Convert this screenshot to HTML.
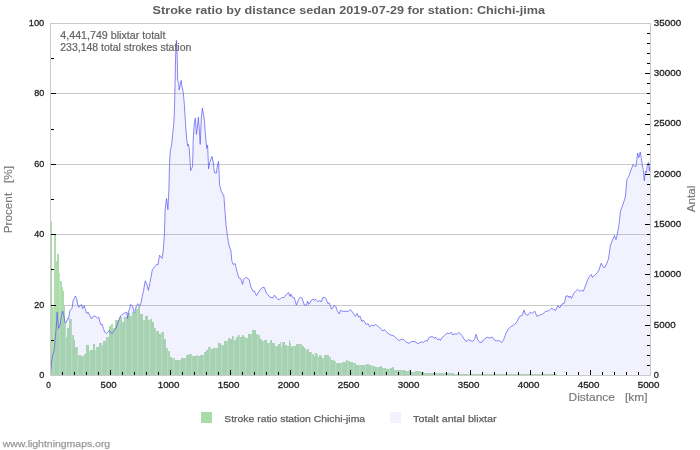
<!DOCTYPE html>
<html><head><meta charset="utf-8"><title>Stroke ratio by distance</title>
<style>
html,body{margin:0;padding:0;background:#fff;}
body{width:700px;height:450px;overflow:hidden;position:relative;font-family:"Liberation Sans",sans-serif;}
</style></head><body>
<svg width="700" height="450" viewBox="0 0 700 450" style="position:absolute;left:0;top:0;will-change:transform"><rect width="700" height="450" fill="#fff"/><g stroke="#c9c9c9" stroke-width="1" shape-rendering="crispEdges"><line x1="51" x2="650" y1="305.5" y2="305.5"/><line x1="51" x2="650" y1="234.5" y2="234.5"/><line x1="51" x2="650" y1="164.5" y2="164.5"/><line x1="51" x2="650" y1="93.5" y2="93.5"/></g><g shape-rendering="crispEdges"><path fill="#acdcaa" d="M51,221h1V375h-1zM52,307h1V375h-1zM55,235h1V375h-1zM56,261h1V375h-1zM57,254h2V375h-2zM61,281h1V375h-1zM62,287h1V375h-1zM63,291h1V375h-1zM64,306h1V375h-1zM67,328h2V375h-2zM69,319h2V375h-2zM73,335h1V375h-1zM74,340h1V375h-1zM75,347h2V375h-2zM79,355h2V375h-2zM81,356h2V375h-2zM85,354h1V375h-1zM86,345h3V375h-3zM91,349.6h2V375h-2zM93,344h2V375h-2zM97,347h2V375h-2zM99,343h2V375h-2zM103,341h3V375h-3zM106,337h1V375h-1zM109,325.5h2V375h-2zM111,324h2V375h-2zM115,319.6h4V375h-4zM121,316.5h1V375h-1zM122,322h2V375h-2zM124,317h1V375h-1zM127,317h1V375h-1zM128,313h2V375h-2zM130,316h1V375h-1zM133,312h3V375h-3zM136,308.5h1V375h-1zM139,306h1V375h-1zM140,314h3V375h-3zM145,316h3V375h-3zM148,320.4h1V375h-1zM151,319h1V375h-1zM152,322h2V375h-2zM154,327.6h1V375h-1zM157,330.8h2V375h-2zM159,334h2V375h-2zM163,332.4h1V375h-1zM164,338.8h2V375h-2zM166,348.4h1V375h-1zM169,350.8h1V375h-1zM170,357h2V375h-2zM172,358.4h1V375h-1zM175,360.4h3V375h-3zM178,360h1V375h-1zM181,358.4h4V375h-4zM187,354.8h2V375h-2zM189,353.6h2V375h-2zM193,355.6h1V375h-1zM194,356.4h2V375h-2zM196,355h1V375h-1zM199,356.4h1V375h-1zM200,354.8h3V375h-3zM205,352h1V375h-1zM206,349.6h2V375h-2zM208,347h1V375h-1zM211,349h2V375h-2zM213,348h2V375h-2zM217,348h1V375h-1zM218,343.2h3V375h-3zM223,345h1V375h-1zM224,340.5h3V375h-3zM229,338h1V375h-1zM230,339h2V375h-2zM232,336.2h1V375h-1zM235,340.2h1V375h-1zM236,337h2V375h-2zM238,335.2h1V375h-1zM241,337.4h1V375h-1zM242,335.2h2V375h-2zM244,337h1V375h-1zM247,337.6h1V375h-1zM248,334.2h3V375h-3zM253,330.2h3V375h-3zM256,334h1V375h-1zM259,335.4h1V375h-1zM260,338.8h2V375h-2zM262,341.2h1V375h-1zM265,340h2V375h-2zM267,342.8h2V375h-2zM271,340h1V375h-1zM272,343.1h3V375h-3zM277,345.5h1V375h-1zM278,343.9h2V375h-2zM280,342h1V375h-1zM283,342h2V375h-2zM285,344.9h2V375h-2zM289,340h1V375h-1zM290,343h1V375h-1zM291,347h1V375h-1zM292,346h1V375h-1zM295,346h1V375h-1zM296,344h3V375h-3zM301,344h1V375h-1zM302,346h2V375h-2zM304,348h1V375h-1zM307,349h2V375h-2zM309,352h2V375h-2zM313,354h1V375h-1zM314,356h1V375h-1zM315,353h2V375h-2zM319,355h2V375h-2zM321,356h1V375h-1zM322,358h1V375h-1zM325,355h1V375h-1zM326,354.5h3V375h-3zM331,360h3V375h-3zM334,361.2h1V375h-1zM337,363.3h4V375h-4zM343,362h3V375h-3zM346,360.4h1V375h-1zM349,361.2h1V375h-1zM350,362h3V375h-3zM355,363.3h1V375h-1zM356,364.5h3V375h-3zM361,365.3h4V375h-4zM367,364h2V375h-2zM369,365.3h2V375h-2zM373,366h2V375h-2zM375,366.9h2V375h-2zM379,366.9h1V375h-1zM380,366.4h2V375h-2zM382,368h1V375h-1zM385,368h1V375h-1zM386,368.8h3V375h-3zM391,368h1V375h-1zM392,366.9h2V375h-2zM394,370.4h1V375h-1zM397,370h4V375h-4zM403,370h2V375h-2zM405,370.9h2V375h-2zM409,369.6h1V375h-1zM410,371.5h3V375h-3zM415,371.2h4V375h-4zM421,372h3V375h-3zM424,372.8h1V375h-1zM427,372.8h4V375h-4zM433,372.5h4V375h-4zM439,372.8h4V375h-4zM445,373.3h4V375h-4zM451,373.3h3V375h-3zM454,374h1V375h-1zM457,374h4V375h-4zM463,374h1V375h-1zM464,374.3h3V375h-3zM469,374.3h4V375h-4zM475,374.3h4V375h-4zM481,374.3h4V375h-4zM487,374.3h4V375h-4zM493,374.3h4V375h-4zM499,374.3h4V375h-4zM505,374.3h4V375h-4zM511,374.3h4V375h-4zM517,374.3h4V375h-4zM523,374.3h4V375h-4zM529,374.3h4V375h-4zM535,374.3h4V375h-4zM541,374.3h4V375h-4zM547,374.3h4V375h-4zM553,374.3h4V375h-4z"/><path fill="#bbe3bb" d="M53,307h1V375h-1zM59,273h1V375h-1zM65,322h1V375h-1zM71,319h1V375h-1zM77,347h1V375h-1zM83,356h1V375h-1zM89,351h1V375h-1zM95,350h1V375h-1zM101,343h1V375h-1zM107,337h1V375h-1zM113,327.6h1V375h-1zM119,316.5h1V375h-1zM125,317h1V375h-1zM131,316h1V375h-1zM137,308.5h1V375h-1zM143,319.6h1V375h-1zM149,320.4h1V375h-1zM155,327.6h1V375h-1zM161,332.4h1V375h-1zM167,348.4h1V375h-1zM173,358.4h1V375h-1zM179,360h1V375h-1zM185,358.4h1V375h-1zM191,353.6h1V375h-1zM197,355h1V375h-1zM203,354.8h1V375h-1zM209,347h1V375h-1zM215,348h1V375h-1zM221,345h1V375h-1zM227,340.5h1V375h-1zM233,336.2h1V375h-1zM239,335.2h1V375h-1zM245,337h1V375h-1zM251,334.2h1V375h-1zM257,334h1V375h-1zM263,341.2h1V375h-1zM269,342.8h1V375h-1zM275,345.5h1V375h-1zM281,346.8h1V375h-1zM287,346h1V375h-1zM293,346h1V375h-1zM299,344h1V375h-1zM305,348h1V375h-1zM311,352h1V375h-1zM317,354h1V375h-1zM323,358h1V375h-1zM329,357.2h1V375h-1zM335,361.2h1V375h-1zM341,363.3h1V375h-1zM347,360.4h1V375h-1zM353,363.3h1V375h-1zM359,365.3h1V375h-1zM365,365.3h1V375h-1zM371,365.3h1V375h-1zM377,366.9h1V375h-1zM383,368h1V375h-1zM389,368.8h1V375h-1zM395,370.4h1V375h-1zM401,370h1V375h-1zM407,370.9h1V375h-1zM413,371.5h1V375h-1zM419,371.2h1V375h-1zM425,372.8h1V375h-1zM431,372.8h1V375h-1zM437,372.5h1V375h-1zM443,372.8h1V375h-1zM449,373.3h1V375h-1zM455,374h1V375h-1zM461,374h1V375h-1zM467,374.3h1V375h-1zM473,374.3h1V375h-1zM479,374.3h1V375h-1zM485,374.3h1V375h-1zM491,374.3h1V375h-1zM497,374.3h1V375h-1zM503,374.3h1V375h-1zM509,374.3h1V375h-1zM515,374.3h1V375h-1zM521,374.3h1V375h-1zM527,374.3h1V375h-1zM533,374.3h1V375h-1zM539,374.3h1V375h-1zM545,374.3h1V375h-1zM551,374.3h1V375h-1z"/><path fill="#b2dfb1" d="M54,235h1V375h-1zM60,281h1V375h-1zM66,337h1V375h-1zM72,335h1V375h-1zM78,355h1V375h-1zM84,354h1V375h-1zM90,349.6h1V375h-1zM96,347h1V375h-1zM102,345h1V375h-1zM108,337h1V375h-1zM114,327.6h1V375h-1zM120,316.5h1V375h-1zM126,317h1V375h-1zM132,312h1V375h-1zM138,306h1V375h-1zM144,319.6h1V375h-1zM150,319h1V375h-1zM156,330.8h1V375h-1zM162,332.4h1V375h-1zM168,350.8h1V375h-1zM174,358.4h1V375h-1zM180,360h1V375h-1zM186,354.8h1V375h-1zM192,355.6h1V375h-1zM198,356.4h1V375h-1zM204,352h1V375h-1zM210,347h1V375h-1zM216,348h1V375h-1zM222,345h1V375h-1zM228,338h1V375h-1zM234,340.2h1V375h-1zM240,337.4h1V375h-1zM246,337.6h1V375h-1zM252,330.2h1V375h-1zM258,335.4h1V375h-1zM264,340h1V375h-1zM270,340h1V375h-1zM276,345.5h1V375h-1zM282,342h1V375h-1zM288,346h1V375h-1zM294,346h1V375h-1zM300,344h1V375h-1zM306,350h1V375h-1zM312,354h1V375h-1zM318,357h1V375h-1zM324,355h1V375h-1zM330,357.2h1V375h-1zM336,363.3h1V375h-1zM342,362h1V375h-1zM348,361.2h1V375h-1zM354,363.3h1V375h-1zM360,365.3h1V375h-1zM366,364h1V375h-1zM372,366h1V375h-1zM378,366.9h1V375h-1zM384,368h1V375h-1zM390,368h1V375h-1zM396,370.4h1V375h-1zM402,370h1V375h-1zM408,370.9h1V375h-1zM414,371.5h1V375h-1zM420,371.2h1V375h-1zM426,372.8h1V375h-1zM432,372.5h1V375h-1zM438,372.8h1V375h-1zM444,372.8h1V375h-1zM450,373.3h1V375h-1zM456,374h1V375h-1zM462,374h1V375h-1zM468,374.3h1V375h-1zM474,374.3h1V375h-1zM480,374.3h1V375h-1zM486,374.3h1V375h-1zM492,374.3h1V375h-1zM498,374.3h1V375h-1zM504,374.3h1V375h-1zM510,374.3h1V375h-1zM516,374.3h1V375h-1zM522,374.3h1V375h-1zM528,374.3h1V375h-1zM534,374.3h1V375h-1zM540,374.3h1V375h-1zM546,374.3h1V375h-1zM552,374.3h1V375h-1z"/></g><path d="M50.5,375 L50.6,371 L51,368 L52,359 L53,354 L54.2,350 L55.4,335.6 L56.2,328.4 L57.2,312.2 L57.8,320 L58.6,328.4 L60.2,324.2 L61.4,315.8 L62.6,311 L63.8,315.2 L65,322.4 L66.2,322.4 L67.8,318.2 L68.6,318.8 L69.8,311 L71,309.2 L72.2,308 L73,300.8 L74,299 L75.4,296 L76.6,298.4 L77.8,305 L78.8,307.4 L80.6,305 L81.4,304.4 L82.6,308.6 L84.2,305.6 L85.4,309.8 L86.6,313.4 L88.2,312.2 L89.6,315.2 L91.4,318.8 L93.2,316.4 L95.6,316.2 L97.4,318.2 L98.6,317 L99.8,321.2 L101,324.8 L102.2,324.2 L103.4,328.4 L104.6,332 L106.4,333.4 L108.2,332 L109.4,330.2 L111.2,333.4 L112.4,333.2 L114.2,330.2 L116,327.8 L117.8,323 L119.6,318.2 L120.8,315.8 L122,314.6 L123.8,313.4 L125.6,312.6 L126.8,312.2 L127.6,318.4 L128.5,311.2 L129.6,309.2 L130.4,304.4 L131.6,305 L132.8,306.8 L133.8,311.4 L134.8,312.4 L136.4,306 L138,303.6 L139.9,306 L141.2,302 L142,297.6 L143.6,290.4 L145.2,280.8 L146.8,284 L148.4,290.4 L150,282.4 L152.4,269.6 L154.8,266.4 L157.2,264 L158,264.8 L159.6,255.2 L162,258.4 L163.1,252 L164.4,235 L165.2,208.8 L166.5,198.4 L167.9,209.6 L168.9,189.6 L169.5,164.4 L170.3,150.8 L171.6,145.2 L173.7,124.4 L174.3,114.8 L174.8,96 L175.6,56.4 L176.4,40.4 L177.2,56.4 L177.7,80.4 L178.8,83.6 L179.1,90 L181.2,80.4 L182,86.8 L183.1,91.6 L183.6,96.4 L184.4,105.2 L185.5,123.6 L186.5,137.2 L187.6,146 L188.4,144.4 L189.2,148.4 L190.3,164.4 L190.6,170.6 L191.6,168.5 L192.5,166.5 L192.9,154.8 L193.2,140 L194.3,123 L195.4,118.2 L196.4,134.4 L197.4,127 L198.4,117.2 L199.3,130 L200.2,144.4 L201.3,118 L202.4,108 L203.6,115 L204.4,120.4 L205.7,138.8 L206.8,148.4 L207.6,145.2 L208.6,168.8 L209.4,164 L210.3,161 L212,156.4 L213.4,163 L214,170 L214.8,173 L216.4,173 L217.3,166 L218.5,161.3 L219.2,175 L219.6,184.8 L221.2,191.2 L223.9,196 L224.9,210.4 L226,224.8 L227.3,235 L228.4,242.4 L230,248.8 L230.8,250 L231.9,261.2 L233.2,264.4 L235.1,263.6 L237.2,272.4 L238.8,278 L240.9,278.8 L242.5,284.4 L243.6,279.6 L246,277.2 L249.2,279.6 L250.8,286.8 L253.2,291.6 L254.3,290.8 L256.4,295.6 L258.8,291.6 L262,287.6 L264.4,287.6 L266.5,293.2 L270,297.2 L273.2,297.7 L274.5,295.1 L278,299.6 L280.4,298.8 L282,297.2 L283.6,298 L286,294.8 L288.4,292.4 L290,296.4 L290.8,294 L292.4,297.2 L294.3,297.7 L296.4,305.2 L298.5,299.6 L300.4,297.2 L302,298 L304.4,305.2 L306.5,305.2 L307.6,301.2 L308.7,304.4 L312.2,299.4 L313.8,299.4 L314.6,300.6 L315.6,299.3 L316.6,300.4 L318.1,301.6 L319.8,300.5 L320.4,300.9 L321.2,302 L322.8,297.7 L324.7,297.2 L326,298.8 L327.9,303.6 L329.2,302.8 L331.6,309.2 L334.3,305.2 L335.9,306.8 L337.5,311.6 L339.3,314 L340.4,310.3 L342.8,311.3 L346,311.3 L348.4,311.3 L350.5,309.5 L353.2,313.2 L355.3,316.4 L357.2,313.5 L358.5,317.2 L360,316 L361.7,321.2 L363.6,320.4 L366,324.4 L368.1,323.6 L369.7,326.8 L371.6,325.2 L374,325.7 L375.6,324.4 L378,326.3 L380.4,328.4 L382.8,331.1 L384.4,329.5 L386.8,332.4 L390,334.8 L393.2,335.6 L396.4,338 L398.8,340.7 L401.2,339.3 L403.6,339.6 L406,342 L409.2,343.3 L411.6,341.5 L414.8,341.5 L418,343.6 L421.2,342 L423.6,342.3 L426,340.4 L427.3,341.2 L429.2,337.5 L432.1,336.4 L434,338 L435.9,337.5 L437.5,339.6 L439.1,338.8 L440.4,340.4 L442,337.5 L444.4,335.6 L446.8,333.2 L449.2,333.5 L451.6,332.4 L452.7,334.8 L454.8,334 L457.2,334 L459.1,332.4 L462,335.6 L463.9,338.8 L466,341.5 L468.4,339.6 L470,340.4 L472.4,341.2 L474.5,339.6 L476.1,334.3 L477.7,339.6 L479.6,342.3 L482,342.3 L483.6,339.6 L486,338 L487.3,337.2 L489.2,338 L492.4,337.2 L494.8,340.4 L497.2,340.9 L498.8,340.4 L501.7,342.5 L503.6,339.6 L506,333.2 L508.4,328.9 L510.8,326.8 L514.8,324.4 L517.2,321.2 L519.6,316.4 L522,315.6 L524.1,310 L525.2,314 L527.6,315.3 L530,312.4 L532.4,313.2 L534.8,311.1 L536.9,316.4 L540.4,314.8 L542.8,314 L545.2,311.6 L549.2,310.5 L551.3,308.4 L553.2,309.2 L555.6,310.5 L558,305.6 L559.6,308 L562,304 L564.4,303.2 L566,296 L568.1,296 L569.2,297.6 L570,296 L571.6,298.4 L573.5,293.6 L575.6,291.2 L577.7,289.3 L579.6,291.2 L581.5,290.4 L583.3,291.2 L585.2,286.4 L587.3,280.8 L589.2,276.8 L591.3,274.4 L592.4,277.3 L594.8,275.2 L597.2,272.8 L598.8,270.4 L600.1,266.4 L601.2,263.2 L602.8,266.4 L604.4,268 L606.5,264 L608.4,259.2 L609.5,252 L610.4,245.2 L614.4,235.6 L616,239.6 L617.3,234 L618.7,226.8 L619.7,218.8 L620.5,210.8 L622.4,206 L625.1,198 L626,191 L626.7,180.8 L627.3,178.5 L628.8,176.3 L630.6,171.2 L633.1,164.5 L634.7,166.4 L636,166.4 L636.8,160 L637.6,153 L638.9,157.6 L640.2,152 L641.3,157.6 L642.1,164 L643.2,169.6 L644.3,180.8 L645.3,171.2 L646.4,172.8 L647.2,165.6 L648.5,162.4 L649.3,171.2 L650,166.4 L650,375 Z" fill="rgba(120,120,255,0.095)"/><polyline points="50.6,371 51,368 52,359 53,354 54.2,350 55.4,335.6 56.2,328.4 57.2,312.2 57.8,320 58.6,328.4 60.2,324.2 61.4,315.8 62.6,311 63.8,315.2 65,322.4 66.2,322.4 67.8,318.2 68.6,318.8 69.8,311 71,309.2 72.2,308 73,300.8 74,299 75.4,296 76.6,298.4 77.8,305 78.8,307.4 80.6,305 81.4,304.4 82.6,308.6 84.2,305.6 85.4,309.8 86.6,313.4 88.2,312.2 89.6,315.2 91.4,318.8 93.2,316.4 95.6,316.2 97.4,318.2 98.6,317 99.8,321.2 101,324.8 102.2,324.2 103.4,328.4 104.6,332 106.4,333.4 108.2,332 109.4,330.2 111.2,333.4 112.4,333.2 114.2,330.2 116,327.8 117.8,323 119.6,318.2 120.8,315.8 122,314.6 123.8,313.4 125.6,312.6 126.8,312.2 127.6,318.4 128.5,311.2 129.6,309.2 130.4,304.4 131.6,305 132.8,306.8 133.8,311.4 134.8,312.4 136.4,306 138,303.6 139.9,306 141.2,302 142,297.6 143.6,290.4 145.2,280.8 146.8,284 148.4,290.4 150,282.4 152.4,269.6 154.8,266.4 157.2,264 158,264.8 159.6,255.2 162,258.4 163.1,252 164.4,235 165.2,208.8 166.5,198.4 167.9,209.6 168.9,189.6 169.5,164.4 170.3,150.8 171.6,145.2 173.7,124.4 174.3,114.8 174.8,96 175.6,56.4 176.4,40.4 177.2,56.4 177.7,80.4 178.8,83.6 179.1,90 181.2,80.4 182,86.8 183.1,91.6 183.6,96.4 184.4,105.2 185.5,123.6 186.5,137.2 187.6,146 188.4,144.4 189.2,148.4 190.3,164.4 190.6,170.6 191.6,168.5 192.5,166.5 192.9,154.8 193.2,140 194.3,123 195.4,118.2 196.4,134.4 197.4,127 198.4,117.2 199.3,130 200.2,144.4 201.3,118 202.4,108 203.6,115 204.4,120.4 205.7,138.8 206.8,148.4 207.6,145.2 208.6,168.8 209.4,164 210.3,161 212,156.4 213.4,163 214,170 214.8,173 216.4,173 217.3,166 218.5,161.3 219.2,175 219.6,184.8 221.2,191.2 223.9,196 224.9,210.4 226,224.8 227.3,235 228.4,242.4 230,248.8 230.8,250 231.9,261.2 233.2,264.4 235.1,263.6 237.2,272.4 238.8,278 240.9,278.8 242.5,284.4 243.6,279.6 246,277.2 249.2,279.6 250.8,286.8 253.2,291.6 254.3,290.8 256.4,295.6 258.8,291.6 262,287.6 264.4,287.6 266.5,293.2 270,297.2 273.2,297.7 274.5,295.1 278,299.6 280.4,298.8 282,297.2 283.6,298 286,294.8 288.4,292.4 290,296.4 290.8,294 292.4,297.2 294.3,297.7 296.4,305.2 298.5,299.6 300.4,297.2 302,298 304.4,305.2 306.5,305.2 307.6,301.2 308.7,304.4 312.2,299.4 313.8,299.4 314.6,300.6 315.6,299.3 316.6,300.4 318.1,301.6 319.8,300.5 320.4,300.9 321.2,302 322.8,297.7 324.7,297.2 326,298.8 327.9,303.6 329.2,302.8 331.6,309.2 334.3,305.2 335.9,306.8 337.5,311.6 339.3,314 340.4,310.3 342.8,311.3 346,311.3 348.4,311.3 350.5,309.5 353.2,313.2 355.3,316.4 357.2,313.5 358.5,317.2 360,316 361.7,321.2 363.6,320.4 366,324.4 368.1,323.6 369.7,326.8 371.6,325.2 374,325.7 375.6,324.4 378,326.3 380.4,328.4 382.8,331.1 384.4,329.5 386.8,332.4 390,334.8 393.2,335.6 396.4,338 398.8,340.7 401.2,339.3 403.6,339.6 406,342 409.2,343.3 411.6,341.5 414.8,341.5 418,343.6 421.2,342 423.6,342.3 426,340.4 427.3,341.2 429.2,337.5 432.1,336.4 434,338 435.9,337.5 437.5,339.6 439.1,338.8 440.4,340.4 442,337.5 444.4,335.6 446.8,333.2 449.2,333.5 451.6,332.4 452.7,334.8 454.8,334 457.2,334 459.1,332.4 462,335.6 463.9,338.8 466,341.5 468.4,339.6 470,340.4 472.4,341.2 474.5,339.6 476.1,334.3 477.7,339.6 479.6,342.3 482,342.3 483.6,339.6 486,338 487.3,337.2 489.2,338 492.4,337.2 494.8,340.4 497.2,340.9 498.8,340.4 501.7,342.5 503.6,339.6 506,333.2 508.4,328.9 510.8,326.8 514.8,324.4 517.2,321.2 519.6,316.4 522,315.6 524.1,310 525.2,314 527.6,315.3 530,312.4 532.4,313.2 534.8,311.1 536.9,316.4 540.4,314.8 542.8,314 545.2,311.6 549.2,310.5 551.3,308.4 553.2,309.2 555.6,310.5 558,305.6 559.6,308 562,304 564.4,303.2 566,296 568.1,296 569.2,297.6 570,296 571.6,298.4 573.5,293.6 575.6,291.2 577.7,289.3 579.6,291.2 581.5,290.4 583.3,291.2 585.2,286.4 587.3,280.8 589.2,276.8 591.3,274.4 592.4,277.3 594.8,275.2 597.2,272.8 598.8,270.4 600.1,266.4 601.2,263.2 602.8,266.4 604.4,268 606.5,264 608.4,259.2 609.5,252 610.4,245.2 614.4,235.6 616,239.6 617.3,234 618.7,226.8 619.7,218.8 620.5,210.8 622.4,206 625.1,198 626,191 626.7,180.8 627.3,178.5 628.8,176.3 630.6,171.2 633.1,164.5 634.7,166.4 636,166.4 636.8,160 637.6,153 638.9,157.6 640.2,152 641.3,157.6 642.1,164 643.2,169.6 644.3,180.8 645.3,171.2 646.4,172.8 647.2,165.6 648.5,162.4 649.3,171.2 650,166.4" fill="none" stroke="#5555f2" stroke-width="0.7" stroke-linejoin="round"/><g stroke="#cbcbcb" stroke-width="1" shape-rendering="crispEdges" fill="none"><line x1="50.5" x2="50.5" y1="23" y2="376"/><line x1="650.5" x2="650.5" y1="23" y2="376"/><line x1="50" x2="651" y1="23.5" y2="23.5"/><line x1="50" x2="651" y1="375.5" y2="375.5"/></g><g stroke="#000" stroke-width="1" shape-rendering="crispEdges"><line x1="51" x2="54" y1="340.5" y2="340.5"/><line x1="51" x2="56" y1="305.5" y2="305.5"/><line x1="51" x2="54" y1="269.5" y2="269.5"/><line x1="51" x2="56" y1="234.5" y2="234.5"/><line x1="51" x2="54" y1="199.5" y2="199.5"/><line x1="51" x2="56" y1="164.5" y2="164.5"/><line x1="51" x2="54" y1="129.5" y2="129.5"/><line x1="51" x2="56" y1="93.5" y2="93.5"/><line x1="51" x2="54" y1="58.5" y2="58.5"/><line x1="647" x2="650" y1="365.5" y2="365.5"/><line x1="647" x2="650" y1="355.5" y2="355.5"/><line x1="647" x2="650" y1="345.5" y2="345.5"/><line x1="647" x2="650" y1="335.5" y2="335.5"/><line x1="645" x2="650" y1="325.5" y2="325.5"/><line x1="647" x2="650" y1="315.5" y2="315.5"/><line x1="647" x2="650" y1="305.5" y2="305.5"/><line x1="647" x2="650" y1="295.5" y2="295.5"/><line x1="647" x2="650" y1="284.5" y2="284.5"/><line x1="645" x2="650" y1="274.5" y2="274.5"/><line x1="647" x2="650" y1="264.5" y2="264.5"/><line x1="647" x2="650" y1="254.5" y2="254.5"/><line x1="647" x2="650" y1="244.5" y2="244.5"/><line x1="647" x2="650" y1="234.5" y2="234.5"/><line x1="645" x2="650" y1="224.5" y2="224.5"/><line x1="647" x2="650" y1="214.5" y2="214.5"/><line x1="647" x2="650" y1="204.5" y2="204.5"/><line x1="647" x2="650" y1="194.5" y2="194.5"/><line x1="647" x2="650" y1="184.5" y2="184.5"/><line x1="645" x2="650" y1="174.5" y2="174.5"/><line x1="647" x2="650" y1="164.5" y2="164.5"/><line x1="647" x2="650" y1="154.5" y2="154.5"/><line x1="647" x2="650" y1="144.5" y2="144.5"/><line x1="647" x2="650" y1="134.5" y2="134.5"/><line x1="645" x2="650" y1="124.5" y2="124.5"/><line x1="647" x2="650" y1="114.5" y2="114.5"/><line x1="647" x2="650" y1="103.5" y2="103.5"/><line x1="647" x2="650" y1="93.5" y2="93.5"/><line x1="647" x2="650" y1="83.5" y2="83.5"/><line x1="645" x2="650" y1="73.5" y2="73.5"/><line x1="647" x2="650" y1="63.5" y2="63.5"/><line x1="647" x2="650" y1="53.5" y2="53.5"/><line x1="647" x2="650" y1="43.5" y2="43.5"/><line x1="647" x2="650" y1="33.5" y2="33.5"/><line x1="62.5" x2="62.5" y1="372" y2="375"/><line x1="74.5" x2="74.5" y1="372" y2="375"/><line x1="86.5" x2="86.5" y1="372" y2="375"/><line x1="98.5" x2="98.5" y1="372" y2="375"/><line x1="110.5" x2="110.5" y1="370" y2="375"/><line x1="122.5" x2="122.5" y1="372" y2="375"/><line x1="134.5" x2="134.5" y1="372" y2="375"/><line x1="146.5" x2="146.5" y1="372" y2="375"/><line x1="158.5" x2="158.5" y1="372" y2="375"/><line x1="170.5" x2="170.5" y1="370" y2="375"/><line x1="182.5" x2="182.5" y1="372" y2="375"/><line x1="194.5" x2="194.5" y1="372" y2="375"/><line x1="206.5" x2="206.5" y1="372" y2="375"/><line x1="218.5" x2="218.5" y1="372" y2="375"/><line x1="230.5" x2="230.5" y1="370" y2="375"/><line x1="242.5" x2="242.5" y1="372" y2="375"/><line x1="254.5" x2="254.5" y1="372" y2="375"/><line x1="266.5" x2="266.5" y1="372" y2="375"/><line x1="278.5" x2="278.5" y1="372" y2="375"/><line x1="290.5" x2="290.5" y1="370" y2="375"/><line x1="302.5" x2="302.5" y1="372" y2="375"/><line x1="314.5" x2="314.5" y1="372" y2="375"/><line x1="326.5" x2="326.5" y1="372" y2="375"/><line x1="338.5" x2="338.5" y1="372" y2="375"/><line x1="350.5" x2="350.5" y1="370" y2="375"/><line x1="362.5" x2="362.5" y1="372" y2="375"/><line x1="374.5" x2="374.5" y1="372" y2="375"/><line x1="386.5" x2="386.5" y1="372" y2="375"/><line x1="398.5" x2="398.5" y1="372" y2="375"/><line x1="410.5" x2="410.5" y1="370" y2="375"/><line x1="422.5" x2="422.5" y1="372" y2="375"/><line x1="434.5" x2="434.5" y1="372" y2="375"/><line x1="446.5" x2="446.5" y1="372" y2="375"/><line x1="458.5" x2="458.5" y1="372" y2="375"/><line x1="470.5" x2="470.5" y1="370" y2="375"/><line x1="482.5" x2="482.5" y1="372" y2="375"/><line x1="494.5" x2="494.5" y1="372" y2="375"/><line x1="506.5" x2="506.5" y1="372" y2="375"/><line x1="518.5" x2="518.5" y1="372" y2="375"/><line x1="530.5" x2="530.5" y1="370" y2="375"/><line x1="542.5" x2="542.5" y1="372" y2="375"/><line x1="554.5" x2="554.5" y1="372" y2="375"/><line x1="566.5" x2="566.5" y1="372" y2="375"/><line x1="578.5" x2="578.5" y1="372" y2="375"/><line x1="590.5" x2="590.5" y1="370" y2="375"/><line x1="602.5" x2="602.5" y1="372" y2="375"/><line x1="614.5" x2="614.5" y1="372" y2="375"/><line x1="626.5" x2="626.5" y1="372" y2="375"/><line x1="638.5" x2="638.5" y1="372" y2="375"/></g><g font-family="'Liberation Sans', sans-serif"><text x="152.6" y="14.2" font-size="11.2" fill="#5e5e5e" font-weight="bold" textLength="392.4" lengthAdjust="spacingAndGlyphs">Stroke ratio by distance sedan 2019-07-29 for station: Chichi-jima</text><text x="60.3" y="38.9" font-size="10" fill="#646464" stroke="#646464" stroke-width="0.2" textLength="105.1" lengthAdjust="spacingAndGlyphs">4,441,749 blixtar totalt</text><text x="60.3" y="51.4" font-size="10" fill="#646464" stroke="#646464" stroke-width="0.2" textLength="131" lengthAdjust="spacingAndGlyphs">233,148 total strokes station</text><text x="44.3" y="25.9" font-size="9.7" fill="#222" stroke="#222" stroke-width="0.3" text-anchor="end" textLength="15.5" lengthAdjust="spacingAndGlyphs">100</text><text x="44.3" y="96.3" font-size="9.7" fill="#222" stroke="#222" stroke-width="0.3" text-anchor="end" textLength="10" lengthAdjust="spacingAndGlyphs">80</text><text x="44.3" y="166.7" font-size="9.7" fill="#222" stroke="#222" stroke-width="0.3" text-anchor="end" textLength="10" lengthAdjust="spacingAndGlyphs">60</text><text x="44.3" y="237.1" font-size="9.7" fill="#222" stroke="#222" stroke-width="0.3" text-anchor="end" textLength="10" lengthAdjust="spacingAndGlyphs">40</text><text x="44.3" y="307.5" font-size="9.7" fill="#222" stroke="#222" stroke-width="0.3" text-anchor="end" textLength="10" lengthAdjust="spacingAndGlyphs">20</text><text x="44.3" y="377.9" font-size="9.7" fill="#222" stroke="#222" stroke-width="0.3" text-anchor="end" textLength="5.1" lengthAdjust="spacingAndGlyphs">0</text><text x="653.8" y="377.8" font-size="9.7" fill="#222" stroke="#222" stroke-width="0.3" textLength="5.1" lengthAdjust="spacingAndGlyphs">0</text><text x="653.8" y="327.5" font-size="9.7" fill="#222" stroke="#222" stroke-width="0.3" textLength="21.8" lengthAdjust="spacingAndGlyphs">5000</text><text x="653.8" y="277.2" font-size="9.7" fill="#222" stroke="#222" stroke-width="0.3" textLength="27.3" lengthAdjust="spacingAndGlyphs">10000</text><text x="653.8" y="226.9" font-size="9.7" fill="#222" stroke="#222" stroke-width="0.3" textLength="27.3" lengthAdjust="spacingAndGlyphs">15000</text><text x="653.8" y="176.7" font-size="9.7" fill="#222" stroke="#222" stroke-width="0.3" textLength="27.3" lengthAdjust="spacingAndGlyphs">20000</text><text x="653.8" y="126.4" font-size="9.7" fill="#222" stroke="#222" stroke-width="0.3" textLength="27.3" lengthAdjust="spacingAndGlyphs">25000</text><text x="653.8" y="76.1" font-size="9.7" fill="#222" stroke="#222" stroke-width="0.3" textLength="27.3" lengthAdjust="spacingAndGlyphs">30000</text><text x="653.8" y="25.8" font-size="9.7" fill="#222" stroke="#222" stroke-width="0.3" textLength="27.3" lengthAdjust="spacingAndGlyphs">35000</text><text x="48.6" y="388.2" font-size="9.7" fill="#222" stroke="#222" stroke-width="0.3" text-anchor="middle" textLength="4.6" lengthAdjust="spacingAndGlyphs">0</text><text x="108.6" y="388.2" font-size="9.7" fill="#222" stroke="#222" stroke-width="0.3" text-anchor="middle" textLength="16" lengthAdjust="spacingAndGlyphs">500</text><text x="168.6" y="388.2" font-size="9.7" fill="#222" stroke="#222" stroke-width="0.3" text-anchor="middle" textLength="21.8" lengthAdjust="spacingAndGlyphs">1000</text><text x="228.6" y="388.2" font-size="9.7" fill="#222" stroke="#222" stroke-width="0.3" text-anchor="middle" textLength="21.8" lengthAdjust="spacingAndGlyphs">1500</text><text x="288.6" y="388.2" font-size="9.7" fill="#222" stroke="#222" stroke-width="0.3" text-anchor="middle" textLength="21.8" lengthAdjust="spacingAndGlyphs">2000</text><text x="348.6" y="388.2" font-size="9.7" fill="#222" stroke="#222" stroke-width="0.3" text-anchor="middle" textLength="21.8" lengthAdjust="spacingAndGlyphs">2500</text><text x="408.6" y="388.2" font-size="9.7" fill="#222" stroke="#222" stroke-width="0.3" text-anchor="middle" textLength="21.8" lengthAdjust="spacingAndGlyphs">3000</text><text x="468.6" y="388.2" font-size="9.7" fill="#222" stroke="#222" stroke-width="0.3" text-anchor="middle" textLength="21.8" lengthAdjust="spacingAndGlyphs">3500</text><text x="528.6" y="388.2" font-size="9.7" fill="#222" stroke="#222" stroke-width="0.3" text-anchor="middle" textLength="21.8" lengthAdjust="spacingAndGlyphs">4000</text><text x="588.6" y="388.2" font-size="9.7" fill="#222" stroke="#222" stroke-width="0.3" text-anchor="middle" textLength="21.8" lengthAdjust="spacingAndGlyphs">4500</text><text x="648.6" y="388.2" font-size="9.7" fill="#222" stroke="#222" stroke-width="0.3" text-anchor="middle" textLength="21.8" lengthAdjust="spacingAndGlyphs">5000</text><text x="647.5" y="401.2" font-size="11" fill="#777" stroke="#777" stroke-width="0.15" text-anchor="end" textLength="79" lengthAdjust="spacingAndGlyphs">Distance&#160;&#160;&#160;[km]</text><text x="12.3" y="199.7" font-size="11" fill="#777" stroke="#777" stroke-width="0.15" text-anchor="middle" textLength="67.3" lengthAdjust="spacingAndGlyphs" transform="rotate(-90 12.3 199.7)">Procent&#160;&#160;&#160;[%]</text><text x="695" y="198.9" font-size="11" fill="#777" stroke="#777" stroke-width="0.15" text-anchor="middle" textLength="26.7" lengthAdjust="spacingAndGlyphs" transform="rotate(-90 695 198.9)">Antal</text><rect x="201" y="412" width="11" height="11" fill="#a9dba9"/><text x="224.3" y="422.1" font-size="9.9" fill="#606060" stroke="#606060" stroke-width="0.25" textLength="140.8" lengthAdjust="spacingAndGlyphs">Stroke ratio station Chichi-jima</text><rect x="390" y="412" width="11" height="11" fill="#f2f2fe"/><text x="413.1" y="422.1" font-size="9.9" fill="#606060" stroke="#606060" stroke-width="0.25" textLength="83.4" lengthAdjust="spacingAndGlyphs">Totalt antal blixtar</text><text x="2.7" y="447.3" font-size="9.9" fill="#999" stroke="#999" stroke-width="0.25" textLength="107.5" lengthAdjust="spacingAndGlyphs">www.lightningmaps.org</text></g></svg>
</body></html>
